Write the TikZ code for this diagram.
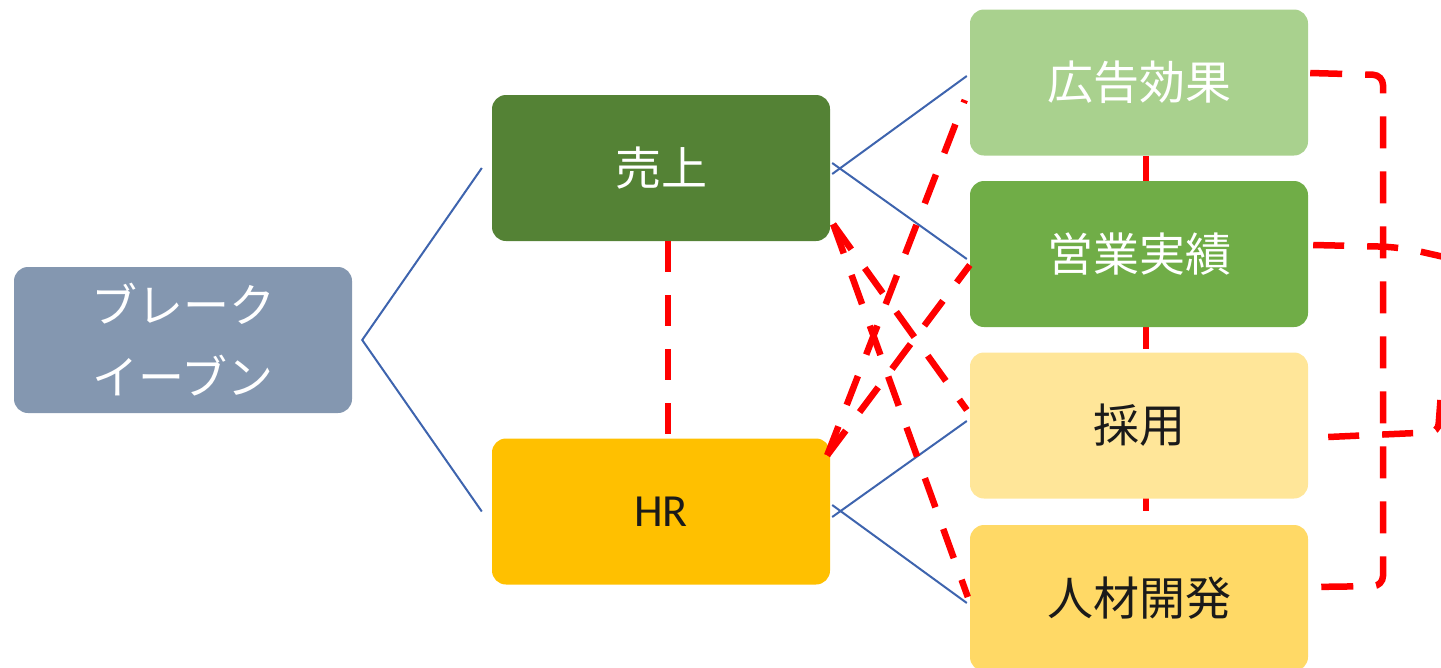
\documentclass[tikz,border=0pt]{standalone}
\usepackage{fontspec}
\newfontfamily\jp{Noto Sans CJK JP}
\newfontfamily\lat{Carlito}
\usetikzlibrary{backgrounds}
\definecolor{beblue}{HTML}{8497B0}
\definecolor{urigreen}{HTML}{548235}
\definecolor{hrgold}{HTML}{FFC000}
\definecolor{adgreen}{HTML}{A9D18E}
\definecolor{salesgreen}{HTML}{70AD47}
\definecolor{recyellow}{HTML}{FFE699}
\definecolor{devyellow}{HTML}{FFD966}
\definecolor{treeblue}{HTML}{3E64AE}
\definecolor{darktext}{HTML}{1A1A1A}
\definecolor{linkred}{HTML}{FF0000}
\begin{document}
\begin{tikzpicture}[x=1pt,y=-1pt,
  box/.style={rectangle, rounded corners=14pt, minimum width=338pt, minimum height=146pt,
    inner sep=0pt, align=center, font=\jp\fontsize{46}{72}\selectfont},
  tree/.style={draw=treeblue, line width=2pt},
  link/.style={draw=linkred, line width=6.5pt, dash pattern=on 31pt off 23pt}]
\useasboundingbox (0,0) rectangle (1441,667);
\clip (0,0) rectangle (1441,667);

% boxes
\node[box, fill=beblue, text=white] (be) at (183,340) {ブレーク\\イーブン};
\node[box, fill=urigreen, text=white] (uri) at (661,168) {売上};
\node[box, fill=hrgold, text=darktext, font=\lat\fontsize{46}{56}\selectfont] (hr) at (661,511.5) {HR};
\node[box, fill=adgreen, text=white] (ad) at (1139,82.5) {広告効果};
\node[box, fill=salesgreen, text=white] (sales) at (1139,254) {営業実績};
\node[box, fill=recyellow, text=darktext] (rec) at (1139,425.5) {採用};
\node[box, fill=devyellow, text=darktext] (dev) at (1139,598) {人材開発};

% red links behind boxes
\begin{pgfonlayer}{background}
\draw[link] ([xshift=7pt]ad.south) -- ([xshift=7pt]dev.north);
\end{pgfonlayer}

% tree lines
\draw[tree] ([xshift=-10pt]uri.west) -- ([xshift=10pt]be.east) -- ([xshift=-10pt]hr.west);
\draw[tree] ([xshift=2pt,yshift=-6pt]uri.east) -- ([xshift=-3pt,yshift=6.5pt]ad.west);
\draw[tree] ([xshift=2pt,yshift=5pt]uri.east) -- ([xshift=-3pt,yshift=-5pt]sales.west);
\draw[tree] ([xshift=2pt,yshift=-5.5pt]hr.east) -- ([xshift=-3pt,yshift=4.5pt]rec.west);
\draw[tree] ([xshift=2pt,yshift=6.5pt]hr.east) -- ([xshift=-3pt,yshift=-5pt]dev.west);

% red links
\draw[link] ([xshift=7pt]uri.south) -- ([xshift=7pt]hr.north);
\draw[link] ([xshift=3pt,yshift=17pt]uri.south east) -- ([xshift=-3pt,yshift=15.5pt]rec.west);
\draw[link] ([xshift=3pt,yshift=17pt]uri.south east) -- ([xshift=-2pt,yshift=1pt]dev.west);
\draw[link] ([xshift=-3pt,yshift=-17pt]hr.north east) -- ([xshift=-5pt,yshift=-17.5pt]ad.west);
\draw[link] ([xshift=-3pt,yshift=-17pt]hr.north east) -- ([yshift=-11pt]sales.west);

\coordinate (bt) at (1383,75);
\coordinate (bb) at (1383,586);
\draw[link, dash pattern=on 32pt off 23pt, rounded corners=10pt]
  ([xshift=2pt,yshift=9.5pt]ad.east) -- (bt) -- (bb) -- ([xshift=2pt,yshift=11pt]dev.east);

\coordinate (s1) at (1400,247);
\coordinate (s2) at (1475,264);
\draw[link, rounded corners=20pt] ([xshift=5pt,yshift=9pt]sales.east) -- (s1) -- (s2);

\coordinate (r1) at (1438,432);
\coordinate (r2) at (1442,380);
\draw[link, rounded corners=8pt] ([xshift=20pt,yshift=-11.5pt]rec.east) -- (r1) -- (r2);
\end{tikzpicture}
\end{document}
